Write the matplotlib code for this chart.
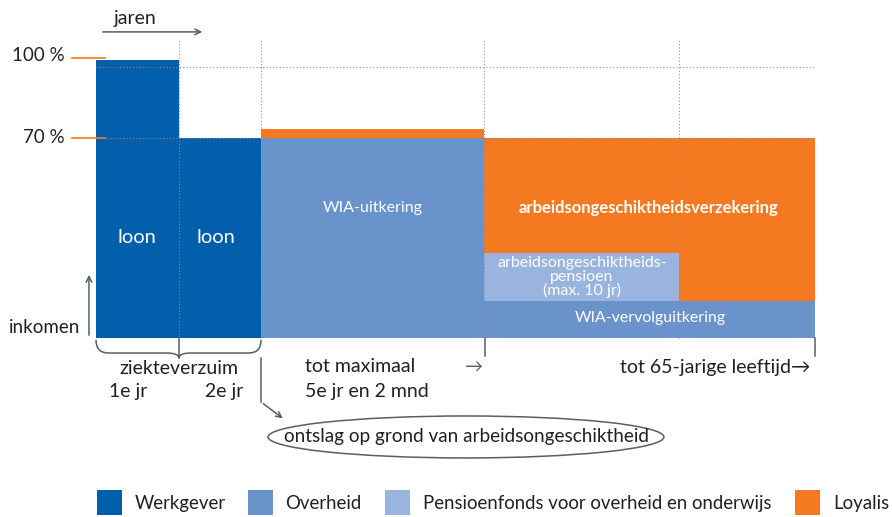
import matplotlib
matplotlib.use('Agg')
import matplotlib.pyplot as plt
from matplotlib.patches import Rectangle, Ellipse
from matplotlib.path import Path
from matplotlib.patches import PathPatch

plt.rcParams['font.family'] = ['Lato', 'DejaVu Sans']

# Kleuren per betaler
COLORS = {
    'Werkgever': '#005eaa',
    'Overheid': '#6a93cc',
    'Pensioenfonds voor overheid en onderwijs': '#99b4de',
    'Loyalis': '#f47920',
}
GRAY = '#555f68'
TXT = '#231f20'

# Blokken van het schema: x in (schematische) jaren, y in % van het inkomen
seg_x0 = [0, 1.0, 2.0, 2.0, 4.7, 4.7, 4.7, 7.05]
seg_x1 = [1.0, 2.0, 4.7, 4.7, 8.7, 7.05, 7.05, 8.7]
seg_bottom = [0, 0, 0, 72, 0, 13.3, 30.6, 13.3]
seg_top = [100, 72, 72, 75.2, 13.3, 30.6, 72, 72]
seg_payer = ['Werkgever', 'Werkgever', 'Overheid', 'Loyalis', 'Overheid',
             'Pensioenfonds voor overheid en onderwijs', 'Loyalis', 'Loyalis']

level_values = [100, 72]
level_labels = ['100 %', '70 %']
period_edges = [1.0, 2.0, 4.7, 7.05]
legend_items = list(COLORS.keys())

fig = plt.figure(figsize=(8.92, 5.17), dpi=100)
ax = fig.add_axes([0, 0, 1, 1])
ax.set_xlim(-1.1617, 9.632)
ax.set_ylim(-64.39, 121.58)
ax.axis('off')

# blokken
widths = [b - a for a, b in zip(seg_x0, seg_x1)]
heights = [t - b for b, t in zip(seg_bottom, seg_top)]
ax.bar(seg_x0, heights, width=widths, bottom=seg_bottom, align='edge',
       color=[COLORS[p] for p in seg_payer], linewidth=0, zorder=2)

# stippellijnen
for x in period_edges:
    ax.plot([x, x], [0, 107.9], ls=(0, (1, 2)), color='#8a9096', lw=0.8, zorder=3)
ax.plot([0, 8.7], [97.5, 97.5], ls=(0, (1, 2)), color='#8a9096', lw=0.8, zorder=3)
ax.plot([0, 8.7], [72, 72], ls=(0, (1, 2)), color='#8a9096', lw=0.8, zorder=3)

# y-labels met oranje streepjes
for v, lab in zip(level_values, level_labels):
    yy = v + 0.7 if v == 100 else v
    ax.plot([-0.29, 0.109], [yy, yy], color='#f47920', lw=1.2, zorder=4)
    ax.text(-0.375, v + 1.5 if v == 100 else v, lab, ha='right', va='center',
            fontsize=13.5, color=TXT)

# assen: jaren / inkomen
ax.text(0.472, 115.1, 'jaren', ha='center', va='center', fontsize=14, color=TXT)
ax.annotate('', xy=(1.319, 110.1), xytext=(0.048, 110.1),
            arrowprops=dict(arrowstyle='->', color=GRAY, lw=1.1))
ax.text(-0.194, 3.6, 'inkomen', ha='right', va='center', fontsize=13.5, color=TXT)
ax.annotate('', xy=(-0.085, 23.7), xytext=(-0.085, 0),
            arrowprops=dict(arrowstyle='->', color=GRAY, lw=1.1))

# teksten in de blokken
ax.text(0.496, 36.3, 'loon', ha='center', va='center', fontsize=14.5, color='white', zorder=5)
ax.text(1.452, 36.3, 'loon', ha='center', va='center', fontsize=14.5, color='white', zorder=5)
ax.text(3.352, 46.8, 'WIA-uitkering', ha='center', va='center', fontsize=11.5, color='white', zorder=5)
ax.text(6.68, 46.8, 'arbeidsongeschiktheidsverzekering', ha='center', va='center',
        fontsize=12, color='white', fontweight='bold', zorder=5)
ax.text(5.881, 21.9, 'arbeidsongeschiktheids-\npensioen\n(max. 10 jr)', ha='center',
        va='center', fontsize=11.5, color='white', linespacing=0.95, zorder=5)
ax.text(6.704, 7.2, 'WIA-vervolguitkering', ha='center', va='center', fontsize=11.4,
        color='white', zorder=5)

# accolade onder ziekteverzuim
verts = [(0.0, -0.7), (0.0, -5.4), (0.15, -5.4),
         (0.85, -5.4),
         (1.004, -5.4), (1.004, -7.2),
         (1.004, -5.4), (1.15, -5.4),
         (1.85, -5.4),
         (1.997, -5.4), (1.997, -0.7)]
codes = [Path.MOVETO, Path.CURVE3, Path.CURVE3,
         Path.LINETO,
         Path.CURVE3, Path.CURVE3,
         Path.CURVE3, Path.CURVE3,
         Path.LINETO,
         Path.CURVE3, Path.CURVE3]
ax.add_patch(PathPatch(Path(verts, codes), fill=False, edgecolor=GRAY, lw=1.1))
ax.plot([1.004, 1.004], [0, -7.2], color=GRAY, lw=1.1)

ax.text(1.004, -10.8, 'ziekteverzuim', ha='center', va='center', fontsize=14, color=TXT)
ax.text(0.387, -19.1, '1e jr', ha='center', va='center', fontsize=14, color=TXT)
ax.text(1.549, -19.1, '2e jr', ha='center', va='center', fontsize=14, color=TXT)

# pijl naar ontslag
ax.plot([1.997, 1.997], [-7.2, -23.0], color=GRAY, lw=1.1)
ax.annotate('', xy=(2.287, -29.5), xytext=(1.997, -23.0),
            arrowprops=dict(arrowstyle='->', color=GRAY, lw=1.1))
ax.add_patch(Ellipse((4.477, -35.6), 4.79, 15.1, fill=False, edgecolor=GRAY, lw=1.1))
ax.text(4.477, -35.6, 'ontslag op grond van arbeidsongeschiktheid', ha='center',
        va='center', fontsize=13.6, color=TXT)

# perioden rechts
for x in [4.707, 8.7]:
    ax.plot([x, x], [0, -6.5], color=GRAY, lw=1.1)
ax.text(2.529, -10.4, 'tot maximaal', ha='left', va='center', fontsize=14, color=TXT)
ax.text(2.529, -19.4, '5e jr en 2 mnd', ha='left', va='center', fontsize=14, color=TXT)
ax.text(4.574, -10.6, '→', ha='center', va='center', fontsize=13, color=GRAY)
ax.text(8.64, -10.6, 'tot 65-jarige leeftijd→', ha='right', va='center', fontsize=14,
        color=TXT)

# legenda
sq_x = [0.012, 1.839, 3.496, 8.458]
txt_x = [0.472, 2.287, 3.957, 8.918]
for name, sx, tx in zip(legend_items, sq_x, txt_x):
    ax.add_patch(Rectangle((sx, -63.7), 0.3025, 9.0, color=COLORS[name], lw=0))
    ax.text(tx, -59.4, name, ha='left', va='center', fontsize=13.4, color=TXT)

fig.savefig('out.png', dpi=100)
